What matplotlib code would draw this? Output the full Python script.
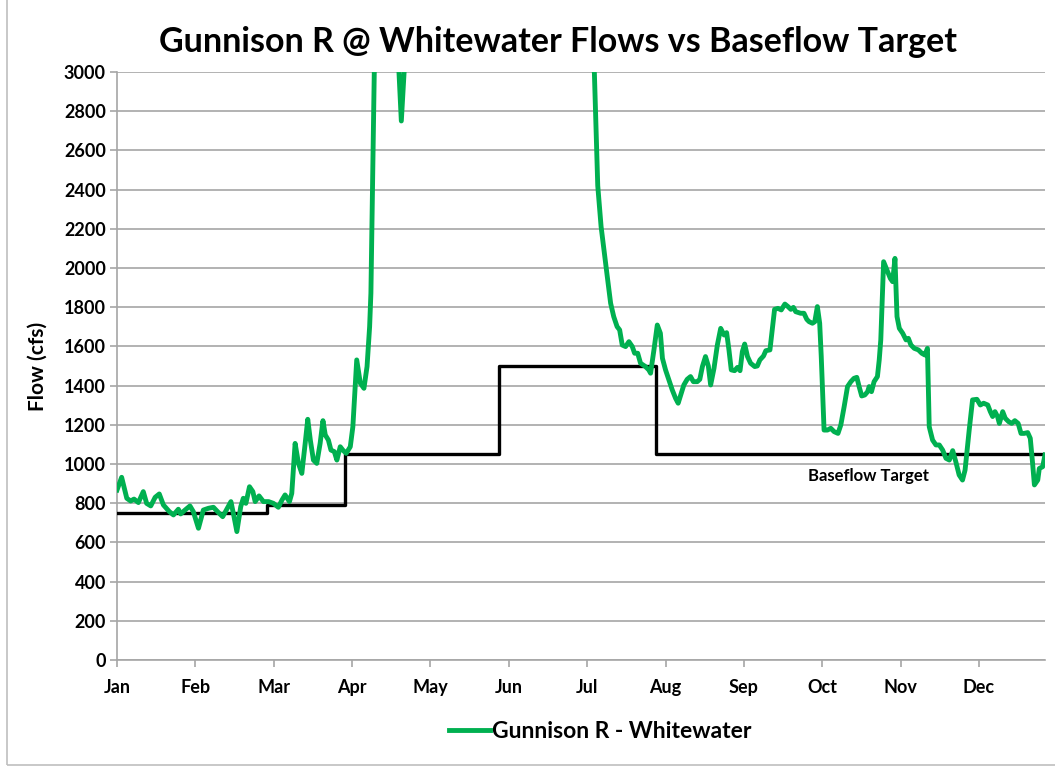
import numpy as np
import matplotlib
matplotlib.use("Agg")
import matplotlib.pyplot as plt
from matplotlib.patches import Rectangle

plt.rcParams['font.family'] = ['Lato', 'DejaVu Sans']

# month labels and their position (day of year)
months = ['Jan', 'Feb', 'Mar', 'Apr', 'May', 'Jun', 'Jul', 'Aug', 'Sep', 'Oct', 'Nov', 'Dec']
month_days = [0, 30.4, 60.8, 91.2, 121.6, 152, 182.4, 212.8, 243.2, 273.6, 304, 334.4]

# Gunnison R - Whitewater flow (cfs) (day of year, cfs)
# values above 3000 are off the chart in the original and are only rough
flow_days = [0, 1.8, 3.8, 5.3, 6.6, 8.3, 10.2, 11.5, 13.1, 14.8, 16.4, 18.0, 20.3, 21.9, 23.8,
             24.7, 26.4, 28.3, 29.6, 31.6, 33.5, 35.5, 37.4, 39.0, 41.0, 42.8, 44.2, 45.4, 46.5,
             48.0, 49.0, 50.0, 51.4, 52.7, 53.6, 55.1, 56.8, 58.8, 60.7, 62.6, 64.0, 65.2, 66.9,
             67.8, 69.1, 70.4, 71.7, 73.0, 74.0, 75.0, 76.2, 77.5, 78.8, 79.9, 80.8, 82.0, 83.0,
             84.3, 85.3, 86.6, 87.6, 88.9, 90.5, 91.5, 93.0, 94.4, 95.8, 97.0, 98.0, 98.5, 98.9,
             99.3, 99.8, 101, 104, 107, 109.2, 110.3, 111.6, 115, 122, 130, 140, 150, 160, 170,
             178, 183, 185.2, 186.5, 187.8, 188.9, 190.2, 191.5, 192.7, 194.0, 195.0, 196.0,
             197.3, 198.6, 199.9, 200.8, 202.0, 203.1, 205.0, 206.3, 207.0, 208.3, 209.6, 210.8,
             211.6, 212.8, 214.1, 215.4, 216.7, 217.7, 218.9, 219.9, 221.2, 222.5, 223.6, 225.1,
             226.1, 227.1, 228.3, 229.4, 230.3, 231.6, 232.9, 234.2, 235.5, 236.5, 237.4, 238.3,
             239.6, 240.7, 241.7, 242.6, 243.5, 244.6, 245.8, 247.4, 248.4, 249.4, 250.8, 251.7,
             253.3, 254.2, 255.1, 256.4, 257.7, 259.1, 260.3, 261.4, 262.4, 263.3, 265.2, 266.5,
             267.6, 268.5, 269.8, 270.7, 271.7, 272.6, 273.2, 273.7, 274.3, 275.6, 276.9, 278.2,
             279.7, 280.8, 282.1, 283.4, 284.7, 285.9, 287.0, 287.9, 288.9, 290.1, 291.2, 291.8,
             292.7, 293.7, 295.0, 295.7, 296.3, 297.4, 298.7, 300.0, 300.9, 301.8, 302.6, 303.5,
             304.8, 306.1, 307.0, 308.0, 309.3, 310.9, 312.2, 313.4, 314.4, 315.1, 316.4, 317.7,
             319.0, 320.3, 321.6, 322.9, 324.2, 325.4, 326.7, 328.0, 329.0, 330.6, 331.9, 333.6,
             334.9, 336.2, 337.8, 338.8, 339.7, 340.6, 341.6, 342.3, 343.6, 344.6, 345.9, 347.1,
             348.3, 349.6, 350.7, 351.9, 353.3, 354.3, 355.2, 355.9, 357.2, 357.8, 359.1, 360.0]
flow_cfs = [867, 932, 825, 811, 821, 803, 859, 799, 786, 830, 847, 791, 757, 740, 769,
            745, 765, 786, 757, 672, 765, 774, 779, 757, 731, 774, 808, 731, 655,
            782, 825, 799, 884, 859, 808, 837, 808, 808, 799, 779, 816, 842, 808,
            850, 1105, 1003, 952, 1105, 1228, 1122, 1020, 1003, 1105, 1221, 1148, 1122, 1071,
            1063, 1020, 1088, 1071, 1054, 1088, 1190, 1531, 1412, 1386, 1497, 1700, 1872, 2211,
            2551, 2993, 3400, 4200, 3800, 3050, 2750, 3050, 4500, 6000, 7500, 8000, 7000, 6000, 4800,
            3800, 3300, 2993, 2420, 2211, 2092, 1956, 1820, 1752, 1701, 1684, 1607,
            1599, 1624, 1599, 1565, 1565, 1514, 1497, 1480, 1463, 1582, 1709, 1667,
            1539, 1480, 1429, 1378, 1335, 1310, 1361, 1403, 1432, 1446, 1420, 1420,
            1432, 1497, 1548, 1500, 1403, 1488, 1607, 1692, 1658, 1670, 1582, 1480,
            1476, 1493, 1476, 1573, 1612, 1548, 1514, 1497, 1500, 1531, 1551, 1578,
            1582, 1684, 1789, 1794, 1786, 1816, 1803, 1789, 1799, 1777, 1769, 1769,
            1738, 1726, 1718, 1726, 1803, 1718, 1550, 1378, 1173, 1173, 1182, 1165,
            1156, 1199, 1293, 1395, 1420, 1437, 1442, 1395, 1347, 1352, 1369, 1395,
            1369, 1420, 1446, 1531, 1633, 2032, 1990, 1947, 1930, 2049, 1752, 1692,
            1667, 1633, 1641, 1607, 1590, 1582, 1565, 1556, 1590, 1190, 1122, 1097,
            1097, 1071, 1029, 1020, 1068, 1012, 944, 918, 969, 1173, 1327, 1330,
            1301, 1310, 1301, 1267, 1242, 1267, 1242, 1207, 1267, 1233, 1216, 1207,
            1221, 1207, 1156, 1156, 1160, 1131, 1003, 893, 918, 977, 986, 1046]

# baseflow target steps (day the level starts, cfs)
target_days = [0, 58, 88.5, 148.3, 209, 360]
target_cfs = [750, 790, 1050, 1500, 1050, 1050]

green = '#00B050'
grid_c = '#A6A6A6'

fig = plt.figure(figsize=(10.55, 7.7), dpi=100)
ax = fig.add_axes([0.1109, 0.1429, 0.8796, 0.7636])

ax.plot(target_days, target_cfs, drawstyle='steps-post', color='black', lw=2.4, zorder=3)
ax.plot(flow_days, flow_cfs, color=green, lw=3.5, zorder=4, label='Gunnison R - Whitewater',
        solid_joinstyle='round')

ax.set_xlim(0, 360)
ax.set_ylim(0, 3000)
ax.set_yticks(range(0, 3001, 200))
ax.set_xticks(month_days)
ax.set_xticklabels(months)
ax.yaxis.grid(True, color=grid_c, lw=1.2)
ax.set_axisbelow(True)

for s in ['top', 'right']:
    ax.spines[s].set_visible(False)
for s in ['left', 'bottom']:
    ax.spines[s].set_color(grid_c)
    ax.spines[s].set_linewidth(1.2)
ax.tick_params(axis='both', colors=grid_c, length=5, width=1.2, labelcolor='black',
               labelsize=13)
ax.tick_params(axis='x', pad=9)
ax.tick_params(axis='y', pad=3)
for lab in ax.get_xticklabels() + ax.get_yticklabels():
    lab.set_fontweight('bold')

ax.set_ylabel('Flow (cfs)', fontsize=15, fontweight='bold', labelpad=12)

ax.text(291.6, 939, 'Baseflow Target', fontsize=12, fontweight='bold', ha='center', va='center')

fig.suptitle('Gunnison R @ Whitewater Flows vs Baseflow Target', fontsize=24.5, fontweight='bold',
             x=0.529, y=0.945, va='center')

fig.legend(loc='center', bbox_to_anchor=(0.569, 0.05), frameon=False,
           handlelength=1.8, handletextpad=0.1, prop={'weight': 'bold', 'size': 16.5})

fig.patches.append(Rectangle((0.007, 0.006), 1.2, 1.2, transform=fig.transFigure,
                             fill=False, edgecolor='#BFBFBF', lw=1.2))

fig.savefig('out.png', dpi=100)
